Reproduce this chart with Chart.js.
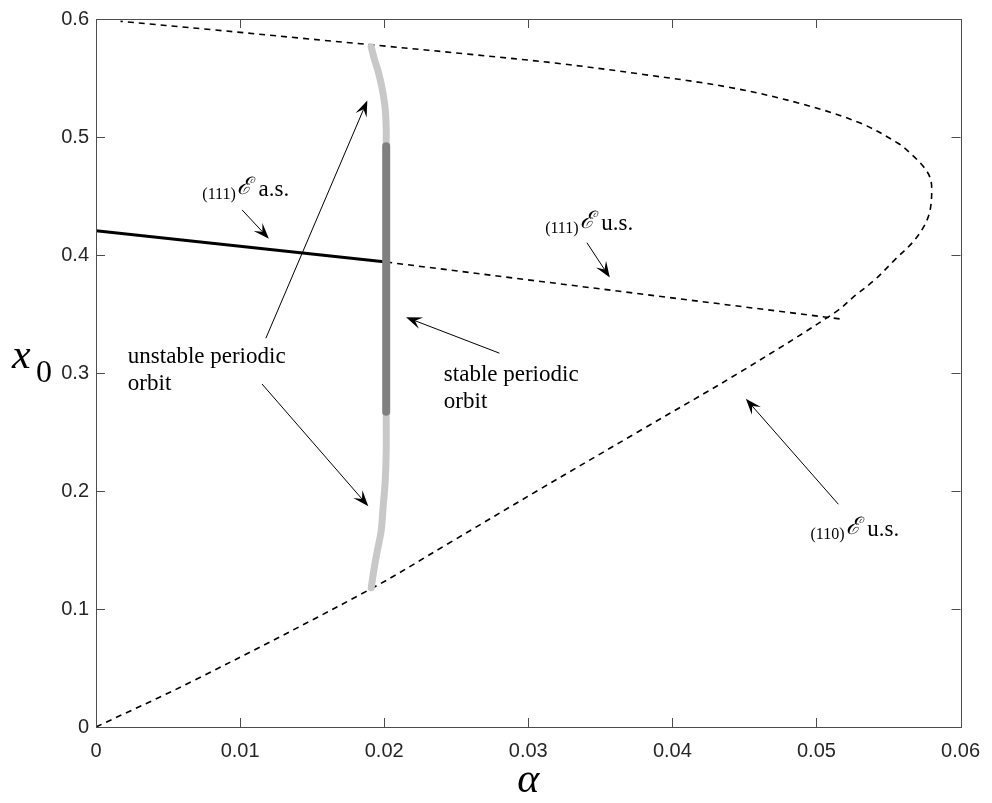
<!DOCTYPE html>
<html><head><meta charset="utf-8">
<script src="https://cdn.jsdelivr.net/npm/chart.js@4.4.0/dist/chart.umd.min.js"></script>
<style>html,body{margin:0;padding:0;background:#fff;}#wrap{width:992px;height:803px;}</style>
</head><body><div id="wrap"><canvas id="c" width="992" height="803"></canvas></div>
<script>
// ---- tick values / labels ----
const xTickValues = [0, 0.01, 0.02, 0.03, 0.04, 0.05, 0.06];
const xTickLabels = ['0', '0.01', '0.02', '0.03', '0.04', '0.05', '0.06'];
const yTickValues = [0, 0.1, 0.2, 0.3, 0.4, 0.5, 0.6];
const yTickLabels = ['0', '0.1', '0.2', '0.3', '0.4', '0.5', '0.6'];

// ---- (110)E unstable branch (dashed), traced from (0,0) round the fold ----
const e110Alpha = [0, 0.00683, 0.0191, 0.0244, 0.0306, 0.0376, 0.0446, 0.0513, 0.05269, 0.05407, 0.05545, 0.05665, 0.05740, 0.05785, 0.0580, 0.05790, 0.05745, 0.05662, 0.05566, 0.0530, 0.0490, 0.0440, 0.0380, 0.0320, 0.0260, 0.0201, 0.0140, 0.0080, 0.0017];
const e110X0    = [0, 0.0396, 0.1172, 0.1551, 0.2000, 0.2500, 0.3000, 0.3514, 0.3657, 0.3792, 0.3961, 0.4104, 0.4230, 0.4360, 0.4530, 0.4650, 0.4745, 0.4850, 0.4947, 0.5120, 0.5280, 0.5420, 0.5530, 0.5625, 0.5700, 0.5770, 0.5840, 0.5910, 0.5980];

// ---- (111)E asymptotically stable (solid) and unstable (dashed) ----
const e111StableAlpha = [0, 0.02014];
const e111StableX0    = [0.4205, 0.3940];
const e111UnstableAlpha = [0.02014, 0.05186];
const e111UnstableX0    = [0.3940, 0.3455];

// ---- periodic orbits ----
const orbitUpperAlpha = [0.01910, 0.01931, 0.01959, 0.01986, 0.02007, 0.02014, 0.02014];
const orbitUpperX0    = [0.5764, 0.5663, 0.5553, 0.5410, 0.5241, 0.5073, 0.4921];
const orbitStableAlpha = [0.02014, 0.02014];
const orbitStableX0    = [0.4921, 0.2671];
const orbitLowerAlpha = [0.02014, 0.02014, 0.02007, 0.01993, 0.01979, 0.01952, 0.01931, 0.01910];
const orbitLowerX0    = [0.2671, 0.2334, 0.2081, 0.1871, 0.1660, 0.1492, 0.1348, 0.1180];

const pts = (a, b) => a.map((v, i) => ({x: v, y: b[i]}));

// ---- annotations (in data units) ----
const arrows = [
  {from: [0.01014, 0.4382], to: [0.01200, 0.4138]},
  {from: [0.01179, 0.3295], to: [0.01883, 0.5309]},
  {from: [0.01152, 0.2907], to: [0.01890, 0.1871]},
  {from: [0.03407, 0.4104], to: [0.03566, 0.3809]},
  {from: [0.02800, 0.3168], to: [0.02152, 0.3472]},
  {from: [0.05152, 0.1888], to: [0.04510, 0.2781]}
];
const mathLabels = [
  {idx: '(111)', rest: ' a.s.', at: [0.00738, 0.4525]},
  {idx: '(111)', rest: ' u.s.', at: [0.03117, 0.4235]},
  {idx: '(110)', rest: ' u.s.', at: [0.04959, 0.1640]}
];
const textLabels = [
  {lines: ['unstable periodic', 'orbit'], at: [0.00221, 0.3135]},
  {lines: ['stable periodic', 'orbit'], at: [0.02414, 0.2983]}
];

function drawArrow(ctx, x1, y1, x2, y2) {
  const ang = Math.atan2(y2 - y1, x2 - x1);
  const L = 16, W = 6, back = 0.6;
  const c = Math.cos(ang), s = Math.sin(ang);
  ctx.beginPath();
  ctx.moveTo(x1, y1);
  ctx.lineTo(x2 - c * L * back, y2 - s * L * back);
  ctx.lineWidth = 1; ctx.strokeStyle = '#000'; ctx.stroke();
  const bx = x2 - c * L, by = y2 - s * L, px = -s, py = c;
  ctx.beginPath();
  ctx.moveTo(x2, y2);
  ctx.lineTo(bx + px * W, by + py * W);
  ctx.lineTo(x2 - c * L * back, y2 - s * L * back);
  ctx.lineTo(bx - px * W, by - py * W);
  ctx.closePath(); ctx.fillStyle = '#000'; ctx.fill();
}

const overlay = {
  id: 'overlay',
  afterDraw(chart) {
    const ctx = chart.ctx, xs = chart.scales.x, ys = chart.scales.y, a = chart.chartArea;
    ctx.save();
    // box
    ctx.strokeStyle = '#4d4d4d'; ctx.lineWidth = 1;
    ctx.strokeRect(Math.round(a.left) + 0.5, Math.round(a.top) + 0.5, Math.round(a.right - a.left), Math.round(a.bottom - a.top));
    // inward ticks on all four sides
    const tl = 9;
    ctx.beginPath();
    xTickValues.forEach(v => {
      const p = Math.round(xs.getPixelForValue(v)) + 0.5;
      ctx.moveTo(p, a.bottom); ctx.lineTo(p, a.bottom - tl);
      ctx.moveTo(p, a.top); ctx.lineTo(p, a.top + tl);
    });
    yTickValues.forEach(v => {
      const p = Math.round(ys.getPixelForValue(v)) + 0.5;
      ctx.moveTo(a.left, p); ctx.lineTo(a.left + tl, p);
      ctx.moveTo(a.right, p); ctx.lineTo(a.right - tl, p);
    });
    ctx.stroke();
    // arrows
    arrows.forEach(r => drawArrow(ctx, xs.getPixelForValue(r.from[0]), ys.getPixelForValue(r.from[1]),
                                       xs.getPixelForValue(r.to[0]), ys.getPixelForValue(r.to[1])));
    // math labels
    ctx.fillStyle = '#000'; ctx.textBaseline = 'alphabetic'; ctx.textAlign = 'left';
    mathLabels.forEach(m => {
      let x = xs.getPixelForValue(m.at[0]); const y = ys.getPixelForValue(m.at[1]);
      ctx.font = '16px "Liberation Serif", serif';
      ctx.fillText(m.idx, x, y + 6); x += ctx.measureText(m.idx).width + 1;
      ctx.font = 'italic 24px "DejaVu Serif", "Liberation Serif", serif';
      ctx.fillText('\u2130', x, y + 1); x += ctx.measureText('\u2130').width + 2;
      ctx.font = '23px "Liberation Serif", serif';
      ctx.fillText(m.rest, x, y + 3);
    });
    textLabels.forEach(t => {
      const x = xs.getPixelForValue(t.at[0]); const y = ys.getPixelForValue(t.at[1]);
      ctx.font = '23px "Liberation Serif", serif'; ctx.textBaseline = 'middle';
      t.lines.forEach((ln, i) => ctx.fillText(ln, x, y + i * 27));
    });
    // axis titles
    ctx.textBaseline = 'alphabetic';
    ctx.font = 'italic 42px "Liberation Serif", serif'; ctx.textAlign = 'center';
    ctx.fillText('\u03b1', (a.left + a.right) / 2, 792);
    ctx.textAlign = 'left';
    ctx.font = 'italic 42px "Liberation Serif", serif';
    ctx.fillText('x', 12, 368);
    ctx.font = '32px "Liberation Serif", serif';
    ctx.fillText('0', 36, 382);
    ctx.restore();
  }
};

new Chart(document.getElementById('c'), {
  type: 'scatter',
  data: {
    datasets: [
      {data: pts(orbitStableAlpha, orbitStableX0), showLine: true, borderColor: '#808080', borderWidth: 8, pointRadius: 0, borderCapStyle: 'round', order: 1},
      {data: pts(orbitUpperAlpha, orbitUpperX0), showLine: true, borderColor: '#c8c8c8', borderWidth: 7, pointRadius: 0, borderCapStyle: 'round', tension: 0.3, order: 2},
      {data: pts(orbitLowerAlpha, orbitLowerX0), showLine: true, borderColor: '#c8c8c8', borderWidth: 7, pointRadius: 0, borderCapStyle: 'round', tension: 0.3, order: 2},
      {data: pts(e111StableAlpha, e111StableX0), showLine: true, borderColor: '#000', borderWidth: 3, pointRadius: 0, order: 3},
      {data: pts(e111UnstableAlpha, e111UnstableX0), showLine: true, borderColor: '#000', borderWidth: 1.6, borderDash: [6, 5], pointRadius: 0, order: 4},
      {data: pts(e110Alpha, e110X0), showLine: true, borderColor: '#000', borderWidth: 1.6, borderDash: [6, 5], pointRadius: 0, tension: 0.35, order: 5}
    ]
  },
  options: {
    responsive: false, animation: false, events: [],
    layout: {padding: {left: 0, right: 26, top: 15, bottom: 0}},
    plugins: {legend: {display: false}, tooltip: {enabled: false}},
    scales: {
      x: {
        type: 'linear', min: 0, max: 0.06,
        grid: {display: false, drawTicks: false}, border: {display: false},
        afterBuildTicks: s => { s.ticks = xTickValues.map(v => ({value: v})); },
        afterFit: s => { s.height = 76; },
        ticks: {padding: 12, color: '#262626', font: {family: '"Liberation Sans", Arial, sans-serif', size: 20},
                callback: (v) => xTickLabels[xTickValues.findIndex(t => Math.abs(t - v) < 1e-9)]}
      },
      y: {
        type: 'linear', min: 0, max: 0.6,
        grid: {display: false, drawTicks: false}, border: {display: false},
        afterBuildTicks: s => { s.ticks = yTickValues.map(v => ({value: v})); },
        afterFit: s => { s.width = 96; },
        ticks: {padding: 7, color: '#262626', font: {family: '"Liberation Sans", Arial, sans-serif', size: 20},
                callback: (v) => yTickLabels[yTickValues.findIndex(t => Math.abs(t - v) < 1e-9)]}
      }
    }
  },
  plugins: [overlay]
});
</script></body></html>
